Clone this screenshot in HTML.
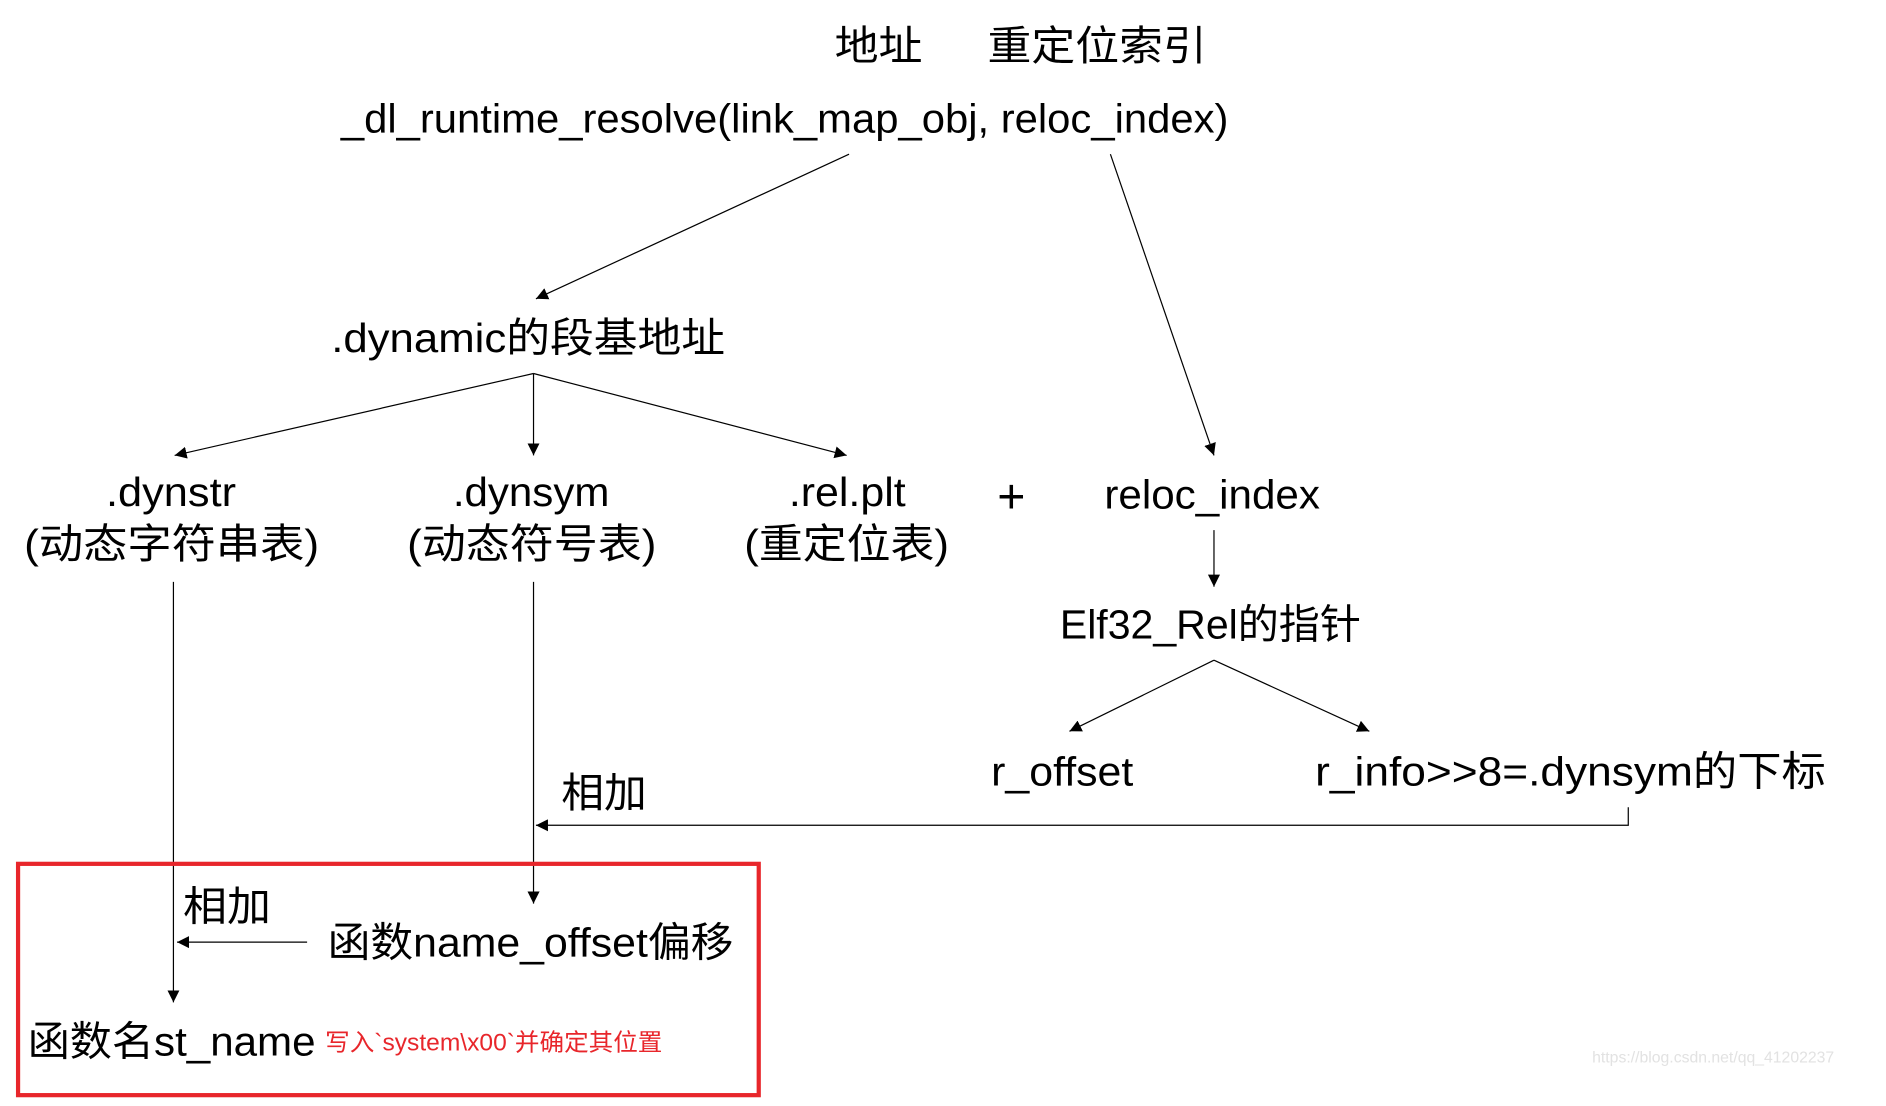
<!DOCTYPE html>
<html><head><meta charset="utf-8"><style>
html,body{margin:0;padding:0;background:#fff;width:1886px;height:1106px;overflow:hidden}
svg{display:block}
text{font-family:"Liberation Sans","Noto Sans CJK SC",sans-serif;fill:#000}
</style></head><body>
<svg width="1886" height="1106" viewBox="0 0 1566 918" preserveAspectRatio="none" xmlns="http://www.w3.org/2000/svg">
<defs><marker id="a" viewBox="0 0 10 10" refX="10" refY="5" markerWidth="10" markerHeight="10" markerUnits="userSpaceOnUse" orient="auto"><path d="M0,0 L10,5 L0,10 z" fill="#000"/></marker></defs>
<g font-size="34">
<text x="693" y="50" textLength="73" lengthAdjust="spacingAndGlyphs">地址</text>
<text x="820" y="50" textLength="182" lengthAdjust="spacingAndGlyphs">重定位索引</text>
<text x="283" y="110" textLength="737" lengthAdjust="spacingAndGlyphs">_dl_runtime_resolve(link_map_obj, reloc_index)</text>
<text x="275" y="292" textLength="327" lengthAdjust="spacingAndGlyphs">.dynamic的段基地址</text>
<text x="88" y="420" textLength="108" lengthAdjust="spacingAndGlyphs">.dynstr</text>
<text x="20" y="463" textLength="245" lengthAdjust="spacingAndGlyphs">(动态字符串表)</text>
<text x="376" y="420" textLength="130" lengthAdjust="spacingAndGlyphs">.dynsym</text>
<text x="338" y="463" textLength="207" lengthAdjust="spacingAndGlyphs">(动态符号表)</text>
<text x="655" y="420" textLength="97" lengthAdjust="spacingAndGlyphs">.rel.plt</text>
<text x="618" y="463" textLength="170" lengthAdjust="spacingAndGlyphs">(重定位表)</text>
<text x="828" y="426" font-size="40">+</text>
<text x="917" y="422" textLength="179" lengthAdjust="spacingAndGlyphs">reloc_index</text>
<text x="880" y="530" textLength="250" lengthAdjust="spacingAndGlyphs">Elf32_Rel的指针</text>
<text x="823" y="652" textLength="118" lengthAdjust="spacingAndGlyphs">r_offset</text>
<text x="1092" y="652" textLength="424" lengthAdjust="spacingAndGlyphs">r_info&gt;&gt;8=.dynsym的下标</text>
<text x="466" y="670" textLength="71" lengthAdjust="spacingAndGlyphs">相加</text>
<text x="152" y="764" textLength="73" lengthAdjust="spacingAndGlyphs">相加</text>
<text x="272" y="794" textLength="337" lengthAdjust="spacingAndGlyphs">函数name_offset偏移</text>
<text x="23" y="876" textLength="239" lengthAdjust="spacingAndGlyphs">函数名st_name</text>
</g>
<text x="270" y="872" font-size="20" style="fill:#e8262b" textLength="280" lengthAdjust="spacingAndGlyphs">写入`system\x00`并确定其位置</text>
<text x="1322" y="882" font-size="13" style="fill:#e2e2e2" textLength="201" lengthAdjust="spacingAndGlyphs">https://blog.csdn.net/qq_41202237</text>
<g stroke="#000" stroke-width="1" fill="none" marker-end="url(#a)">
<line x1="705" y1="128" x2="445" y2="248"/>
<line x1="922" y1="128" x2="1008" y2="378"/>
<line x1="443" y1="310" x2="145" y2="378"/>
<line x1="443" y1="310" x2="443" y2="378"/>
<line x1="443" y1="310" x2="703" y2="378"/>
<line x1="1008" y1="440" x2="1008" y2="487"/>
<line x1="1008" y1="548" x2="888" y2="607"/>
<line x1="1008" y1="548" x2="1137" y2="607"/>
<polyline points="1352,670 1352,685 445,685"/>
<line x1="144" y1="483" x2="144" y2="832"/>
<line x1="443" y1="483" x2="443" y2="750"/>
<line x1="255" y1="782" x2="147" y2="782"/>
</g>
<rect x="15" y="717" width="615" height="192" fill="none" stroke="#e8262b" stroke-width="3.5"/>
</svg>
</body></html>
